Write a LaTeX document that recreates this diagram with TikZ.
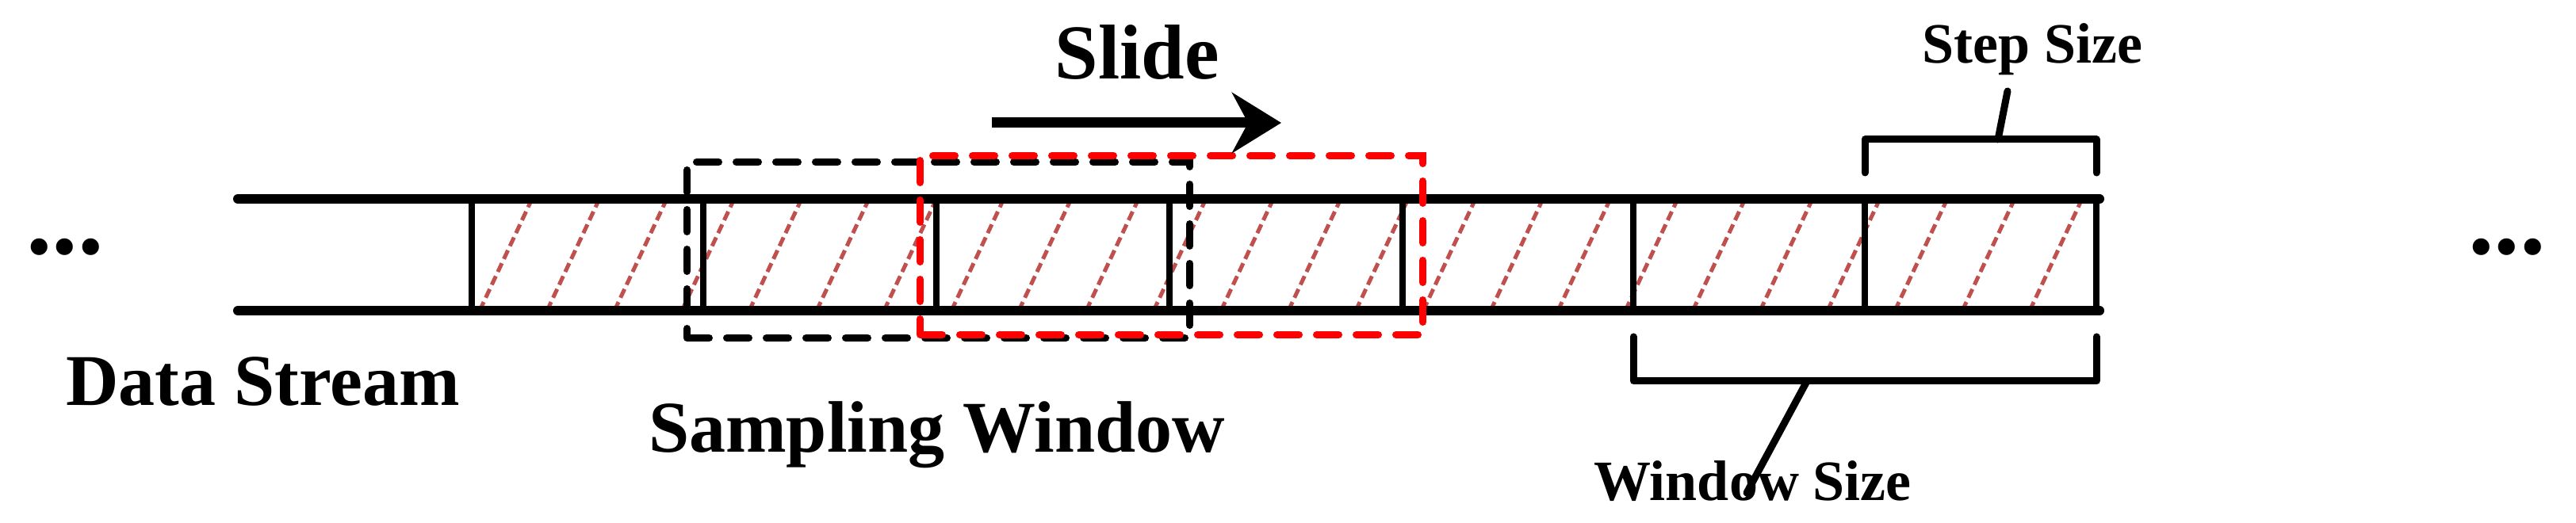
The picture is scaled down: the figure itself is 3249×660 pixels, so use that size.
\documentclass[tikz,border=0pt]{standalone}
\usepackage{fontspec}
\setmainfont{Liberation Serif}
\usetikzlibrary{arrows.meta}
\begin{document}
\begin{tikzpicture}[x=1pt,y=1pt,
  lbl/.style={font=\bfseries\fontsize{#1}{#1}\selectfont, inner sep=0pt},
  rail/.style={line width=12pt, line cap=round},
  divider/.style={line width=8pt},
  hatch/.style={draw={rgb,255:red,192;green,80;blue,77}, line width=5pt, dash pattern=on 12pt off 6pt},
  win/.style={line width=9pt, line cap=round, dash pattern=on 28pt off 22pt},
  brk/.style={line width=9pt, line cap=round, line join=round}]
\useasboundingbox (0,0) rectangle (3249,660);
% coordinates
\coordinate (L1) at (300,409); \coordinate (R1) at (2648,409);
\coordinate (L2) at (300,268); \coordinate (R2) at (2648,268);
% hatching
\begin{scope}
\clip (595,268) rectangle (2644,409);
\foreach \i in {0,...,30} {
  \draw[hatch] ({520+85*\i},268) -- ({520+85*\i+66},409);
}
\end{scope}
\draw[rail] (L1) -- (R1);
\draw[rail] (L2) -- (R2);
\foreach \x in {595,887,1181,1475,1769,2060,2352,2644} {
  \draw[divider] (\x,268) -- (\x,409);
}
% windows
\node[draw, win, minimum width=634pt, minimum height=222pt, anchor=south west] (bw) at (862,229) {};
\node[draw=red, win, minimum width=634pt, minimum height=226pt, anchor=south west] (rw) at (1156,233) {};
% arrow
\coordinate (a1) at (1251,505); \coordinate (a2) at (1616,505);
\draw[line width=13pt, -{Stealth[length=62pt,width=76pt]}] (a1) -- (a2);
% labels
\node[lbl=98] (slide) at (1434,594) {Slide};
\node[lbl=92, anchor=west] (ds) at (83,179) {Data Stream};
\node[lbl=92, anchor=west] (sw) at (818,111) {Sampling Window};
\node[lbl=72, anchor=west] (ss) at (2424,598) {Step Size};
\node[lbl=72, anchor=west] (ws) at (2010,53) {Window Size};
\node[lbl=130] (dl) at (82,348) {...};
\node[lbl=130] (dr) at (3162,348) {...};
% brackets
\draw[brk] (2352,442) -- (2352,484) -- (2644,484) -- (2644,442);
\coordinate (sb) at (2520,484);
\coordinate (st) at (2532,545);
\draw[brk] (sb) -- (st);
\draw[brk] (2060,235) -- (2060,179) -- (2644,179) -- (2644,235);
\coordinate (wb) at (2279,179);
\coordinate (wt) at (2203,38);
\draw[brk] (wb) -- (wt);
\end{tikzpicture}
\end{document}
